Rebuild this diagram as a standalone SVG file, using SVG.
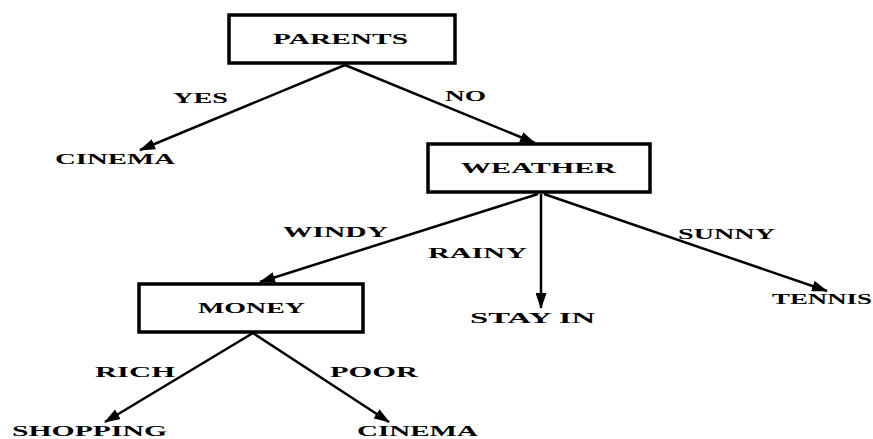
<svg xmlns="http://www.w3.org/2000/svg" width="873" height="439" viewBox="0 0 873 439">
<style>
text{font-family:'Liberation Serif','Times New Roman',serif;font-weight:bold;font-size:15px;fill:#000}
.box{fill:#fff;stroke:#000;stroke-width:3.5}
.c{fill:none;stroke:#000;stroke-width:2.5}
</style>
<defs>
<marker id="ah" viewBox="0 0 16 11" refX="15" refY="5.5" markerWidth="16" markerHeight="11" orient="auto" markerUnits="userSpaceOnUse">
<path d="M0,0 L16,5.5 L0,11 Z" fill="#000"/>
</marker>
</defs>
<rect width="873" height="439" fill="#fff"/>
<g id="connectors">
<line class="c" x1="345" y1="65" x2="140" y2="150" marker-end="url(#ah)"/>
<line class="c" x1="345" y1="65" x2="535" y2="143" marker-end="url(#ah)"/>
<line class="c" x1="538" y1="194" x2="260" y2="282" marker-end="url(#ah)"/>
<line class="c" x1="541" y1="194" x2="541" y2="308" stroke-width="4" marker-end="url(#ah)"/>
<line class="c" x1="544" y1="194" x2="827" y2="291" marker-end="url(#ah)"/>
<line class="c" x1="253" y1="333" x2="105" y2="422" marker-end="url(#ah)"/>
<line class="c" x1="253" y1="333" x2="389" y2="422" marker-end="url(#ah)"/>
<text x="173" y="103" textLength="55" lengthAdjust="spacingAndGlyphs">YES</text>
<text x="445" y="101" textLength="41" lengthAdjust="spacingAndGlyphs">NO</text>
<text x="283" y="237" textLength="105" lengthAdjust="spacingAndGlyphs">WINDY</text>
<text x="428" y="258" textLength="99" lengthAdjust="spacingAndGlyphs">RAINY</text>
<text x="678" y="239" textLength="97" lengthAdjust="spacingAndGlyphs">SUNNY</text>
<text x="95" y="377" textLength="80" lengthAdjust="spacingAndGlyphs">RICH</text>
<text x="330" y="377" textLength="88" lengthAdjust="spacingAndGlyphs">POOR</text>
</g>
<g id="parents">
<rect class="box" x="229" y="15" width="226" height="48"/>
<text x="273" y="44" textLength="135" lengthAdjust="spacingAndGlyphs">PARENTS</text>
</g>
<g id="cinema1">
<text x="55" y="164" textLength="120" lengthAdjust="spacingAndGlyphs">CINEMA</text>
</g>
<g id="weather">
<rect class="box" x="428" y="144" width="222" height="48"/>
<text x="461" y="173" textLength="155" lengthAdjust="spacingAndGlyphs">WEATHER</text>
</g>
<g id="money">
<rect class="box" x="139" y="284" width="224" height="48"/>
<text x="198" y="313" textLength="107" lengthAdjust="spacingAndGlyphs">MONEY</text>
</g>
<g id="stayin">
<text x="470" y="323" textLength="125" lengthAdjust="spacingAndGlyphs">STAY IN</text>
</g>
<g id="tennis">
<text x="772" y="304" textLength="100" lengthAdjust="spacingAndGlyphs">TENNIS</text>
</g>
<g id="shopping">
<text x="12" y="436" textLength="155" lengthAdjust="spacingAndGlyphs">SHOPPING</text>
</g>
<g id="cinema2">
<text x="357" y="436" textLength="121" lengthAdjust="spacingAndGlyphs">CINEMA</text>
</g>
</svg>
